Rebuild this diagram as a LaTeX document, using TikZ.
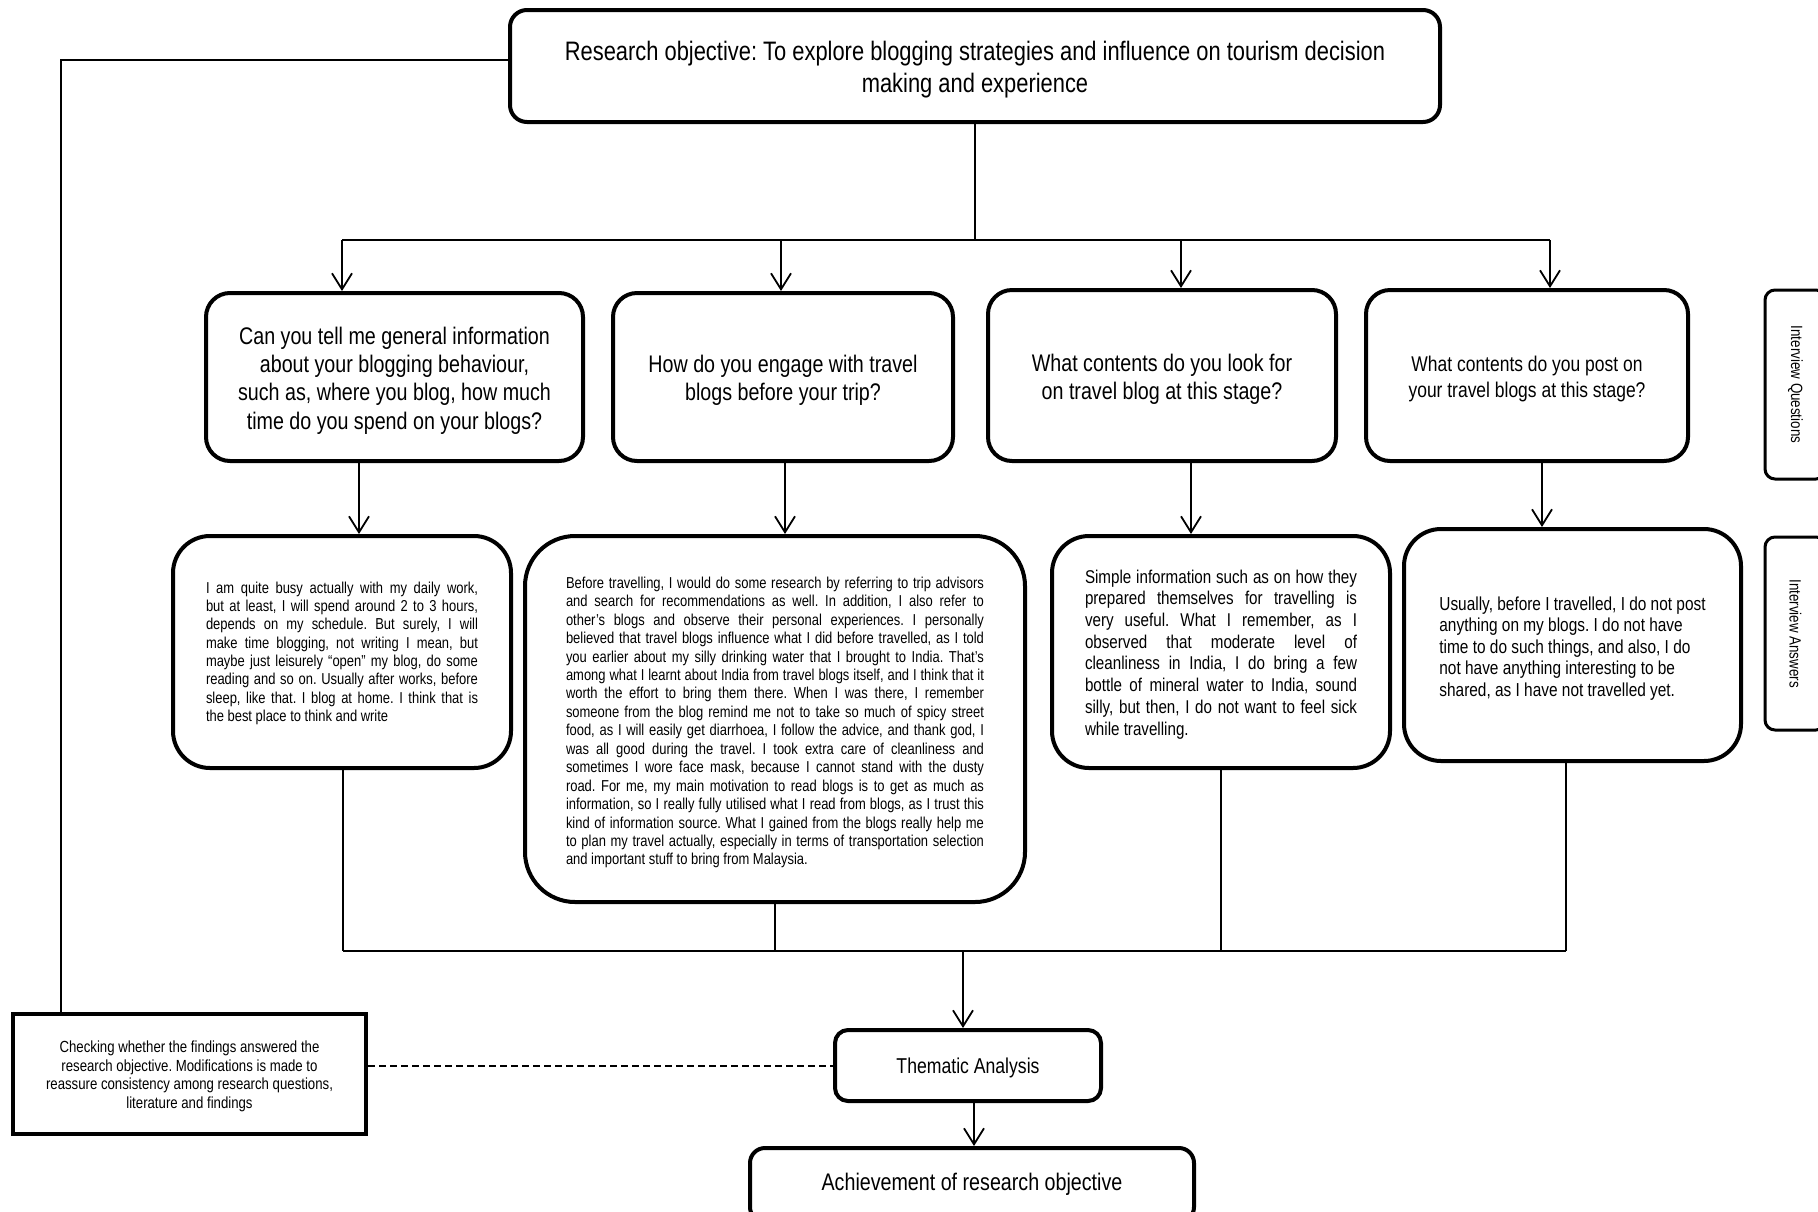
\documentclass[tikz,border=0pt]{standalone}
\usepackage{fontspec}
\setmainfont{Liberation Sans}[FakeStretch=0.82]
\usetikzlibrary{arrows.meta}
\frenchspacing
\newlength\tsh
\setlength\tsh{3.5pt}
\newcommand\rl[1]{\raisebox{-\tsh}[\height][\depth]{#1}}
\newcommand\jl[2]{\rl{\makebox[#1][s]{#2}}\\}
\newcommand\lastln[2]{\rl{\makebox[#1][l]{#2}}}
\begin{document}
\begin{tikzpicture}[x=1pt,y=-1pt,
  box/.style={draw, line width=4pt, align=center, inner sep=0pt},
  conn/.style={line width=1.8pt},
  arr/.style={line width=1.8pt, -{Straight Barb[length=16pt,width=20pt]}},
  dashline/.style={line width=2pt, dash pattern=on 7pt off 4pt},
  qfont/.style={font=\fontsize{24pt}{28.3pt}\selectfont\setlength\tsh{3.5pt}},
]
\fill[white] (0,0) rectangle (1818,1211);
\useasboundingbox (0,0) rectangle (1818,1211);

% top
\node[box, rounded corners=17pt, minimum width=930pt, minimum height=112pt,
  font=\fontsize{26.7pt}{32.5pt}\selectfont\setlength\tsh{3.5pt}] (top) at (975,66)
  {\rl{Research objective: To explore blogging strategies and influence on tourism decision}\\\rl{making and experience}};

% questions
\node[box, qfont, rounded corners=24pt, minimum width=377pt, minimum height=168pt] (q1) at (394.5,377)
  {\rl{Can you tell me general information}\\\rl{about your blogging behaviour,}\\\rl{such as, where you blog, how much}\\\rl{time do you spend on your blogs?}};
\node[box, qfont, rounded corners=24pt, minimum width=340pt, minimum height=168pt] (q2) at (783,377)
  {\rl{How do you engage with travel}\\\rl{blogs before your trip?}};
\node[box, qfont, rounded corners=24pt, minimum width=348pt, minimum height=171pt] (q3) at (1162,375.5)
  {\rl{What contents do you look for}\\\rl{on travel blog at this stage?}};
\node[box, rounded corners=24pt, minimum width=322pt, minimum height=171pt,
  font=\fontsize{21.3pt}{26.8pt}\selectfont\setlength\tsh{3.5pt}] (q4) at (1527,375.5)
  {\rl{What contents do you post on}\\\rl{your travel blogs at this stage?}};

% answers
\node[box, rounded corners=37pt, minimum width=338pt, minimum height=232pt, align=left,
  font=\fontsize{15.8pt}{18.3pt}\selectfont\setlength\tsh{1.2pt}] (a1) at (342,652)
  {\jl{272pt}{I am quite busy actually with my daily work,}
   \jl{272pt}{but at least, I will spend around 2 to 3 hours,}
   \jl{272pt}{depends on my schedule. But surely, I will}
   \jl{272pt}{make time blogging, not writing I mean, but}
   \jl{272pt}{maybe just leisurely “open” my blog, do some}
   \jl{272pt}{reading and so on. Usually after works, before}
   \jl{272pt}{sleep, like that. I blog at home. I think that is}
   \lastln{272pt}{the best place to think and write}};
\node[box, rounded corners=50pt, minimum width=500pt, minimum height=366pt, align=left,
  font=\fontsize{15.8pt}{18.45pt}\selectfont\setlength\tsh{3.5pt}] (a2) at (775,719)
  {\jl{418pt}{Before travelling, I would do some research by referring to trip advisors}
   \jl{418pt}{and search for recommendations as well. In addition, I also refer to}
   \jl{418pt}{other’s blogs and observe their personal experiences. I personally}
   \jl{418pt}{believed that travel blogs influence what I did before travelled, as I told}
   \jl{418pt}{you earlier about my silly drinking water that I brought to India. That’s}
   \jl{418pt}{among what I learnt about India from travel blogs itself, and I think that it}
   \jl{418pt}{worth the effort to bring them there. When I was there, I remember}
   \jl{418pt}{someone from the blog remind me not to take so much of spicy street}
   \jl{418pt}{food, as I will easily get diarrhoea, I follow the advice, and thank god, I}
   \jl{418pt}{was all good during the travel. I took extra care of cleanliness and}
   \jl{418pt}{sometimes I wore face mask, because I cannot stand with the dusty}
   \jl{418pt}{road. For me, my main motivation to read blogs is to get as much as}
   \jl{418pt}{information, so I really fully utilised what I read from blogs, as I trust this}
   \jl{418pt}{kind of information source. What I gained from the blogs really help me}
   \jl{418pt}{to plan my travel actually, especially in terms of transportation selection}
   \lastln{418pt}{and important stuff to bring from Malaysia.}};
\node[box, rounded corners=37pt, minimum width=338pt, minimum height=232pt, align=left,
  font=\fontsize{18.5pt}{21.7pt}\selectfont\setlength\tsh{2.3pt}] (a3) at (1221,652)
  {\jl{272pt}{Simple information such as on how they}
   \jl{272pt}{prepared themselves for travelling is}
   \jl{272pt}{very useful. What I remember, as I}
   \jl{272pt}{observed that moderate level of}
   \jl{272pt}{cleanliness in India, I do bring a few}
   \jl{272pt}{bottle of mineral water to India, sound}
   \jl{272pt}{silly, but then, I do not want to feel sick}
   \lastln{272pt}{while travelling.}};
\node[box, rounded corners=37pt, minimum width=337pt, minimum height=232pt, align=left,
  font=\fontsize{18.8pt}{21.5pt}\selectfont\setlength\tsh{3.5pt}] (a4) at (1572.5,645)
  {\rl{Usually, before I travelled, I do not post}\\
   \rl{anything on my blogs. I do not have}\\
   \rl{time to do such things, and also, I do}\\
   \rl{not have anything interesting to be}\\
   \rl{shared, as I have not travelled yet.}};

% side labels
\node[box, line width=3pt, rounded corners=10pt, rotate=-90, minimum width=189pt, minimum height=61pt,
  font=\fontsize{16.3pt}{18pt}\selectfont] (sq) at (1795.5,384.5) {Interview Questions};
\node[box, line width=3pt, rounded corners=10pt, rotate=-90, minimum width=193pt, minimum height=61pt,
  font=\fontsize{16.3pt}{18pt}\selectfont] (sa) at (1795.5,633.5) {Interview Answers};

% bottom
\node[box, rounded corners=13pt, minimum width=266pt, minimum height=71pt,
  font=\fontsize{21.5pt}{26pt}\selectfont\setlength\tsh{2.3pt}] (th) at (968,1065.5) {\rl{Thematic Analysis}};
\node[box, rounded corners=15pt, minimum width=444pt, minimum height=74pt,
  font=\fontsize{24pt}{28pt}\selectfont\setlength\tsh{-1pt}] (ach) at (972,1185) {\rl{Achievement of research objective}};
\node[box, line width=4.5pt, minimum width=353pt, minimum height=120pt,
  font=\fontsize{16.1pt}{18.5pt}\selectfont\setlength\tsh{2.3pt}] (chk) at (189.5,1074)
  {\rl{Checking whether the findings answered the}\\\rl{research objective. Modifications is made to}\\\rl{reassure consistency among research questions,}\\\rl{literature and findings}};

% connectors top
\coordinate (b1) at (342,240);
\coordinate (b2) at (781,240);
\coordinate (b3) at (1181,240);
\coordinate (b4) at (1550,240);
\draw[conn] (top.south) -- (top.south |- b1);
\draw[conn] (b1) -- (b4);
\draw[arr] (b1) -- (b1 |- q1.north);
\draw[arr] (b2) -- (b2 |- q2.north);
\draw[arr] (b3) -- (b3 |- q3.north);
\draw[arr] (b4) -- (b4 |- q4.north);

% question to answer
\draw[arr] ([xshift=-35.5pt]q1.south) -- ([xshift=-35.5pt]q1.south |- a1.north);
\draw[arr] ([xshift=2pt]q2.south) -- ([xshift=2pt]q2.south |- a2.north);
\draw[arr] ([xshift=29pt]q3.south) -- ([xshift=29pt]q3.south |- a3.north);
\draw[arr] ([xshift=15pt]q4.south) -- ([xshift=15pt]q4.south |- a4.north);

% answers to bottom bar
\coordinate (c1) at (343,951);
\coordinate (c4) at (1566,951);
\draw[conn] (c1) -- (c4);
\draw[conn] (c1 |- a1.south) -- (c1);
\draw[conn] (a2.south) -- (a2.south |- c1);
\draw[conn] (a3.south) -- (a3.south |- c1);
\draw[conn] (c4 |- a4.south) -- (c4);
\draw[arr] ([xshift=-5pt]th.north |- c1) -- ([xshift=-5pt]th.north);
\draw[arr] ([xshift=6pt]th.south) -- ([xshift=6pt]th.south |- ach.north);

% feedback and dashed
\coordinate (fb) at (61,60);
\draw[conn] (fb -| top.west) -- (fb) -- (fb |- chk.north);
\draw[dashline] (th.west -| chk.east) -- (th.west);
\end{tikzpicture}
\end{document}
